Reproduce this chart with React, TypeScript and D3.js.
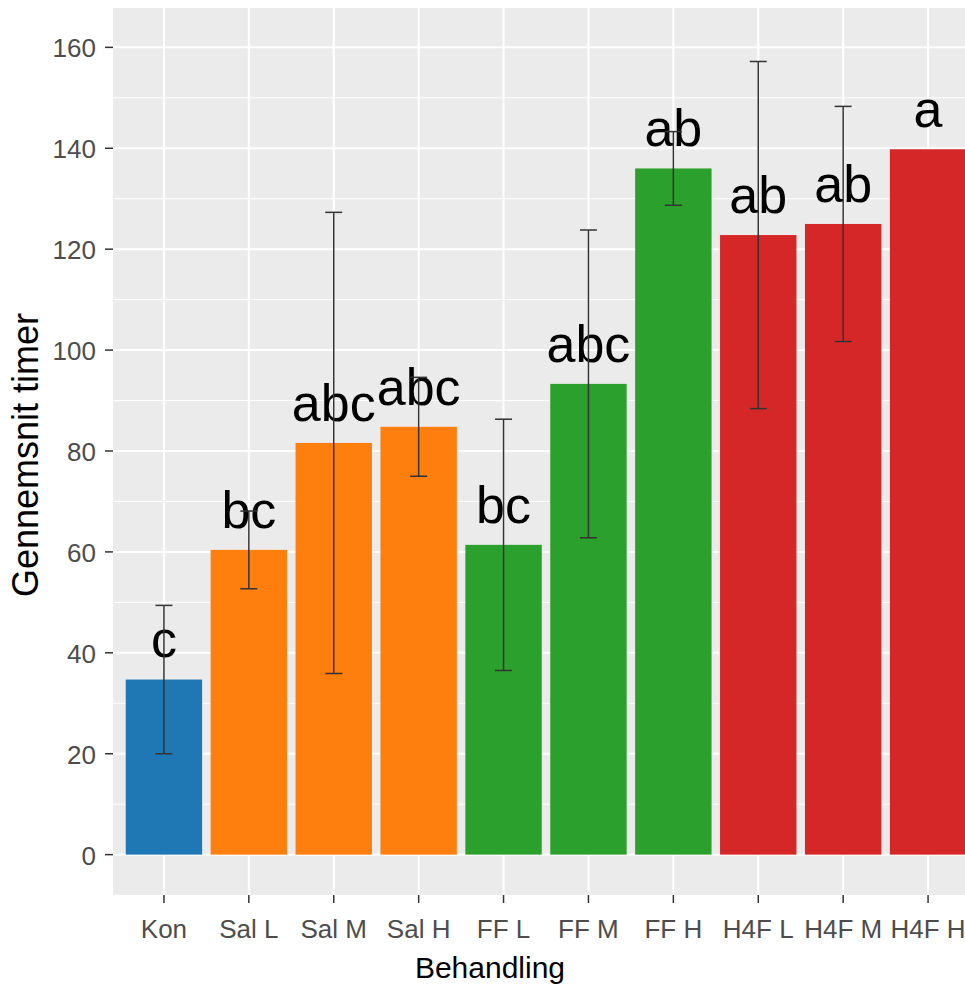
import React from 'react';
import * as d3 from 'd3';

// Behandling (treatment) groups, mean hours and sd
const categories = ['Kon', 'Sal L', 'Sal M', 'Sal H', 'FF L', 'FF M', 'FF H', 'H4F L', 'H4F M', 'H4F H'];
const groups = ['Kon', 'Sal', 'Sal', 'Sal', 'FF', 'FF', 'FF', 'H4F', 'H4F', 'H4F'];
const means = [34.7, 60.4, 81.6, 84.8, 61.4, 93.3, 136.0, 122.8, 125.0, 139.8];
const sds: (number | null)[] = [14.7, 7.7, 45.7, 9.8, 24.9, 30.5, 7.3, 34.4, 23.3, null];
const letters = ['c', 'bc', 'abc', 'abc', 'bc', 'abc', 'ab', 'ab', 'ab', 'a'];
const yTicks = [0, 20, 40, 60, 80, 100, 120, 140, 160];
const yMinor = [10, 30, 50, 70, 90, 110, 130, 150];

const groupColors: Record<string, string> = {
  Kon: '#1f77b4',
  Sal: '#ff7f0e',
  FF: '#2ca02c',
  H4F: '#d62728',
};

const W = 965;
const H = 984;
const panel = { left: 113, right: 979, top: 8, bottom: 895 };
const font = "'Liberation Sans', Arial, sans-serif";

const App: React.FC = () => {
  const x = d3.scaleBand<string>()
    .domain(categories)
    .range([panel.left, panel.right])
    .paddingInner(0)
    .paddingOuter(0.1);
  const y = d3.scaleLinear().domain([-8, 167.8]).range([panel.bottom, panel.top]);

  const step = x.step();
  const barW = step * 0.9;
  const capW = step * 0.2;
  const cx = (c: string) => (x(c) ?? 0) + step / 2;

  return (
    <svg
      width={W}
      height={H}
      style={{ position: 'absolute', left: 0, top: 0, background: '#fff' }}
      fontFamily={font}
    >
      <rect x={panel.left} y={panel.top} width={panel.right - panel.left}
        height={panel.bottom - panel.top} fill="#ebebeb" />

      {/* grid */}
      {yMinor.map(t => (
        <line key={'m' + t} x1={panel.left} x2={panel.right} y1={y(t)} y2={y(t)}
          stroke="#fff" strokeWidth={1} />
      ))}
      {yTicks.map(t => (
        <line key={'g' + t} x1={panel.left} x2={panel.right} y1={y(t)} y2={y(t)}
          stroke="#fff" strokeWidth={2} />
      ))}
      {categories.map(c => (
        <line key={'v' + c} x1={cx(c)} x2={cx(c)} y1={panel.top} y2={panel.bottom}
          stroke="#fff" strokeWidth={2} />
      ))}

      {/* bars */}
      {categories.map((c, i) => (
        <rect key={'b' + c} x={cx(c) - barW / 2} width={barW}
          y={y(means[i])} height={y(0) - y(means[i])}
          fill={groupColors[groups[i]]} />
      ))}

      {/* letters */}
      {categories.map((c, i) => (
        <text key={'l' + c} x={cx(c)} y={y(means[i] + 4.4)} textAnchor="middle"
          fontSize={52} fill="#000">{letters[i]}</text>
      ))}

      {/* error bars */}
      {categories.map((c, i) => {
        const sd = sds[i];
        if (sd == null) return null;
        const lo = y(means[i] - sd);
        const hi = y(means[i] + sd);
        const xc = cx(c);
        return (
          <g key={'e' + c} stroke="#333" strokeWidth={1.5}>
            <line x1={xc} x2={xc} y1={lo} y2={hi} />
            <line x1={xc - capW / 2} x2={xc + capW / 2} y1={lo} y2={lo} />
            <line x1={xc - capW / 2} x2={xc + capW / 2} y1={hi} y2={hi} />
          </g>
        );
      })}

      {/* y axis */}
      {yTicks.map(t => (
        <g key={'yt' + t}>
          <line x1={panel.left - 8} x2={panel.left} y1={y(t)} y2={y(t)} stroke="#333" strokeWidth={1.5} />
          <text x={panel.left - 17} y={y(t)} dy="0.38em" textAnchor="end" fontSize={26} fill="#4d4d4d">{t}</text>
        </g>
      ))}

      {/* x axis */}
      {categories.map(c => (
        <g key={'xt' + c}>
          <line x1={cx(c)} x2={cx(c)} y1={panel.bottom} y2={panel.bottom + 8} stroke="#333" strokeWidth={1.5} />
          <text x={cx(c)} y={938} textAnchor="middle" fontSize={26} fill="#4d4d4d">{c}</text>
        </g>
      ))}

      <text x={490} y={978} textAnchor="middle" fontSize={30} fill="#000">Behandling</text>
      <text transform={`translate(38,${455}) rotate(-90)`} textAnchor="middle" fontSize={36} fill="#000">
        Gennemsnit timer
      </text>
    </svg>
  );
};

export default App;
